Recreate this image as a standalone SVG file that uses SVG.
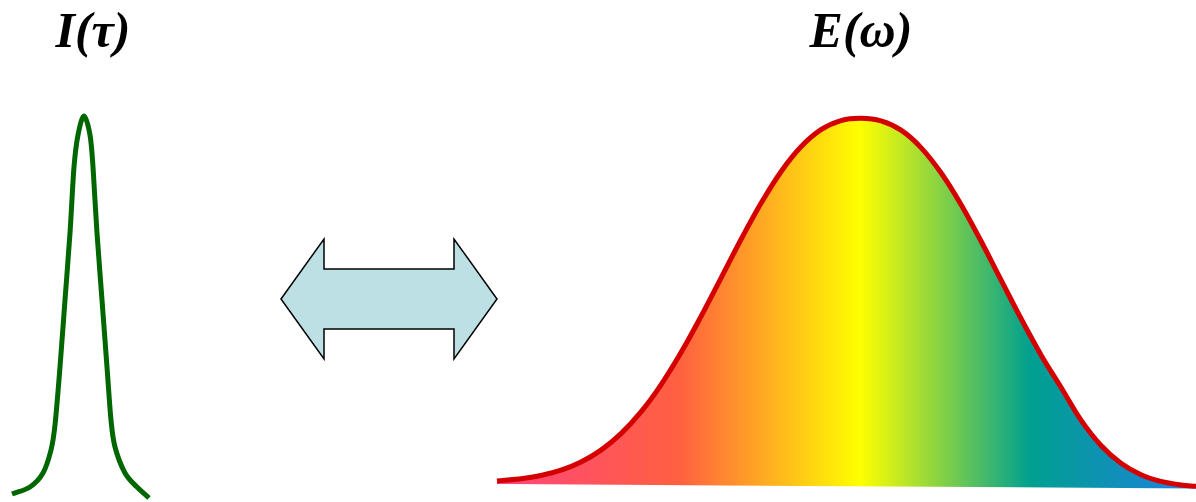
<svg xmlns="http://www.w3.org/2000/svg" width="1196" height="502" viewBox="0 0 1196 502">
<style>
.lbl{font-family:"Liberation Serif","Times New Roman",serif;font-style:italic;font-weight:bold;font-size:50px;fill:#000;text-anchor:middle}
.curve{fill:none;stroke-linecap:butt;stroke-linejoin:round}
</style>
<defs>
<linearGradient id="spec" gradientUnits="userSpaceOnUse" x1="497" y1="0" x2="1196" y2="0">
<stop offset="0" stop-color="#ff457c"/>
<stop offset="0.262" stop-color="#ff6040"/>
<stop offset="0.519" stop-color="#ffff00"/>
<stop offset="0.763" stop-color="#00a090"/>
<stop offset="1" stop-color="#2080e0"/>
</linearGradient>
<path id="bell" d="M497,480.9 C505,480.2 513.67,479.7 521,478.8 C528.33,477.9 534.33,476.93 541,475.5 C547.67,474.07 554.33,472.45 561,470.2 C567.67,467.95 574.33,465.35 581,462 C587.67,458.65 594.33,454.83 601,450.1 C607.67,445.37 614.33,439.97 621,433.6 C627.67,427.23 634.33,420.03 641,411.9 C647.67,403.77 654.33,394.68 661,384.8 C667.67,374.92 674.33,363.98 681,352.6 C687.67,341.22 694.33,328.92 701,316.5 C707.67,304.08 714.33,290.93 721,278.1 C727.67,265.27 734.33,251.97 741,239.5 C747.67,227.03 754.33,214.6 761,203.3 C767.67,192 774.33,181.12 781,171.7 C787.67,162.28 794.33,153.8 801,146.8 C807.67,139.8 814.33,134.07 821,129.7 C827.67,125.33 834.33,122.5 841,120.6 C847.67,118.7 854.33,118.25 861,118.3 C867.67,118.35 874.33,118.92 881,120.9 C887.67,122.88 894.33,125.75 901,130.2 C907.67,134.65 914.33,140.5 921,147.6 C927.67,154.7 934.33,163.32 941,172.8 C947.67,182.28 954.33,193.13 961,204.5 C967.67,215.87 974.33,228.43 981,241 C987.67,253.57 994.33,266.98 1001,279.9 C1007.67,292.82 1014.33,306 1021,318.5 C1027.67,331 1034.33,343.43 1041,354.9 C1047.67,366.37 1054.33,376.42 1061,387.3 C1067.67,398.18 1074.33,410.5 1081,420.2 C1087.67,429.9 1094.33,438.33 1101,445.5 C1107.67,452.67 1114.33,458.33 1121,463.2 C1127.67,468.07 1134.33,471.67 1141,474.7 C1147.67,477.73 1154.33,479.7 1161,481.4 C1167.67,483.1 1175.17,484.08 1181,484.9 C1186.83,485.72 1191,485.83 1196,486.3"/>
</defs>
<rect width="1196" height="502" fill="#fff"/>
<g id="pulse-time">
<text class="lbl" x="93" y="47">I(τ)</text>
<path class="curve" stroke="#006600" stroke-width="5" d="M12,494 C18,491.67 24.83,490.5 30,487 C35.17,483.5 39.5,479.17 43,473 C46.5,466.83 49,458 51,450 C53,442 53.5,438.83 55,425 C56.5,411.17 58.33,387.83 60,367 C61.67,346.17 63.33,322.33 65,300 C66.67,277.67 68.5,255.17 70,233 C71.5,210.83 72.67,183.33 74,167 C75.33,150.67 76.33,143.5 78,135 C79.67,126.5 82,116 84,116 C86,116 88.5,126.5 90,135 C91.5,143.5 91.83,150.67 93,167 C94.17,183.33 95.5,210.83 97,233 C98.5,255.17 100.33,277.67 102,300 C103.67,322.33 105.5,347 107,367 C108.5,387 109.67,406.67 111,420 C112.33,433.33 112.67,438.17 115,447 C117.33,455.83 121.33,466.33 125,473 C128.67,479.67 133,482.83 137,487 C141,491.17 145,494.33 149,498"/>
</g>
<g id="connectors">
<polygon points="281,299 324,239 324,269 454,269 454,239 497,299 454,359 454,329 324,329 324,359" fill="#bce0e4" stroke="#000" stroke-width="1.5" stroke-linejoin="miter"/>
</g>
<g id="spectrum">
<text class="lbl" x="861" y="47">E(ω)</text>
<path fill="url(#spec)" d="M497,480.9 C505,480.2 513.67,479.7 521,478.8 C528.33,477.9 534.33,476.93 541,475.5 C547.67,474.07 554.33,472.45 561,470.2 C567.67,467.95 574.33,465.35 581,462 C587.67,458.65 594.33,454.83 601,450.1 C607.67,445.37 614.33,439.97 621,433.6 C627.67,427.23 634.33,420.03 641,411.9 C647.67,403.77 654.33,394.68 661,384.8 C667.67,374.92 674.33,363.98 681,352.6 C687.67,341.22 694.33,328.92 701,316.5 C707.67,304.08 714.33,290.93 721,278.1 C727.67,265.27 734.33,251.97 741,239.5 C747.67,227.03 754.33,214.6 761,203.3 C767.67,192 774.33,181.12 781,171.7 C787.67,162.28 794.33,153.8 801,146.8 C807.67,139.8 814.33,134.07 821,129.7 C827.67,125.33 834.33,122.5 841,120.6 C847.67,118.7 854.33,118.25 861,118.3 C867.67,118.35 874.33,118.92 881,120.9 C887.67,122.88 894.33,125.75 901,130.2 C907.67,134.65 914.33,140.5 921,147.6 C927.67,154.7 934.33,163.32 941,172.8 C947.67,182.28 954.33,193.13 961,204.5 C967.67,215.87 974.33,228.43 981,241 C987.67,253.57 994.33,266.98 1001,279.9 C1007.67,292.82 1014.33,306 1021,318.5 C1027.67,331 1034.33,343.43 1041,354.9 C1047.67,366.37 1054.33,376.42 1061,387.3 C1067.67,398.18 1074.33,410.5 1081,420.2 C1087.67,429.9 1094.33,438.33 1101,445.5 C1107.67,452.67 1114.33,458.33 1121,463.2 C1127.67,468.07 1134.33,471.67 1141,474.7 C1147.67,477.73 1154.33,479.7 1161,481.4 C1167.67,483.1 1175.17,484.08 1181,484.9 C1186.83,485.72 1191,485.83 1196,486.3 L1196,488.5 L497,484 Z"/>
<use href="#bell" class="curve" stroke="#d40000" stroke-width="5"/>
</g>
</svg>
